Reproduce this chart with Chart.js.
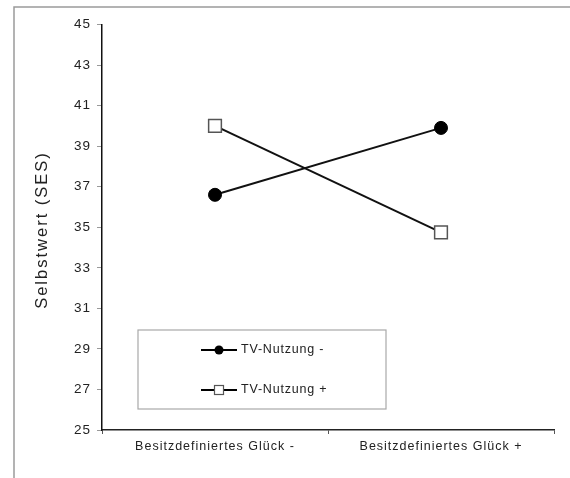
<!DOCTYPE html>
<html>
<head>
<meta charset="utf-8">
<script src="https://cdn.jsdelivr.net/npm/chart.js@4"></script>
<style>
html,body{margin:0;padding:0;background:#fff;}
#wrap{width:570px;height:478px;position:relative;}
</style>
</head>
<body>
<div id="wrap"><canvas id="c" width="570" height="478"></canvas></div>
<script>
const categories = ['Besitzdefiniertes Glück -', 'Besitzdefiniertes Glück +'];
const seriesNames = ['TV-Nutzung -', 'TV-Nutzung +'];
const tvMinus = [36.6, 39.9];
const tvPlus = [40.0, 34.75];
const yMin = 25, yMax = 45, yStep = 2;
const yTitle = 'Selbstwert (SES)';

const FONT = "'Liberation Sans', Arial, sans-serif";

const framePlugin = {
  id: 'frame',
  beforeDraw(chart) {
    const ctx = chart.ctx;
    ctx.letterSpacing = '1px';
    ctx.save();
    ctx.strokeStyle = '#9a9a9a';
    ctx.lineWidth = 1.5;
    ctx.beginPath();
    ctx.moveTo(14, 478);
    ctx.lineTo(14, 7);
    ctx.lineTo(570, 7);
    ctx.stroke();
    ctx.restore();
  },
  afterDraw(chart) {
    const ctx = chart.ctx;
    ctx.save();
    // y axis title
    ctx.save();
    ctx.translate(42, 230);
    ctx.rotate(-Math.PI / 2);
    ctx.letterSpacing = '2px';
    ctx.fillStyle = '#222';
    ctx.font = '16.5px ' + FONT;
    ctx.textAlign = 'center';
    ctx.textBaseline = 'middle';
    ctx.fillText(yTitle, 0, 0);
    ctx.restore();
    // legend box
    ctx.strokeStyle = '#a8a8a8';
    ctx.lineWidth = 1.2;
    ctx.strokeRect(138, 330, 248, 79);
    const rows = [350, 390];
    chart.data.datasets.forEach((ds, i) => {
      const y = rows[i];
      ctx.strokeStyle = '#000';
      ctx.lineWidth = 2;
      ctx.beginPath();
      ctx.moveTo(201, y);
      ctx.lineTo(237, y);
      ctx.stroke();
      if (ds.pointStyle === 'circle') {
        ctx.fillStyle = '#000';
        ctx.beginPath();
        ctx.arc(219, y, 4.5, 0, Math.PI * 2);
        ctx.fill();
      } else {
        ctx.fillStyle = '#fff';
        ctx.strokeStyle = '#555';
        ctx.lineWidth = 1.2;
        ctx.fillRect(214.5, y - 4.5, 9, 9);
        ctx.strokeRect(214.5, y - 4.5, 9, 9);
      }
      ctx.fillStyle = '#222';
      ctx.font = '12.5px ' + FONT;
      ctx.letterSpacing = '0.8px';
      ctx.textBaseline = 'middle';
      ctx.textAlign = 'left';
      ctx.fillText(ds.label, 241, y);
    });
    ctx.restore();
  }
};

new Chart(document.getElementById('c'), {
  type: 'line',
  data: {
    labels: categories,
    datasets: [
      {
        label: seriesNames[0],
        data: tvMinus,
        borderColor: '#111',
        borderWidth: 2,
        pointStyle: 'circle',
        pointRadius: 6.5,
        pointBackgroundColor: '#000',
        pointBorderColor: '#000',
        pointBorderWidth: 1,
        tension: 0
      },
      {
        label: seriesNames[1],
        data: tvPlus,
        borderColor: '#111',
        borderWidth: 2,
        pointStyle: 'rect',
        pointRadius: 9,
        pointBackgroundColor: '#fff',
        pointBorderColor: '#555',
        pointBorderWidth: 1.5,
        tension: 0
      }
    ]
  },
  options: {
    responsive: false,
    animation: false,
    devicePixelRatio: 1,
    layout: { padding: { top: 24.5, right: 16, bottom: 0, left: 0 } },
    plugins: { legend: { display: false }, tooltip: { enabled: false } },
    scales: {
      x: {
        type: 'category',
        offset: true,
        grid: { offset: true, drawOnChartArea: false, tickLength: 4, color: '#555', tickWidth: 1 },
        border: { color: '#222', width: 1.5 },
        ticks: { color: '#222', font: { family: FONT, size: 12.5 }, padding: 5, maxRotation: 0 },
        afterFit(s) { s.height = 48; }
      },
      y: {
        min: yMin, max: yMax,
        grid: { drawOnChartArea: false, tickLength: 5, color: '#999', tickWidth: 1 },
        border: { color: '#111', width: 1.5 },
        ticks: { stepSize: yStep, color: '#222', font: { family: FONT, size: 13.5 }, padding: 6 },
        title: { display: false },
        afterFit(s) { s.width = 102; }
      }
    }
  },
  plugins: [framePlugin]
});
</script>
</body>
</html>
